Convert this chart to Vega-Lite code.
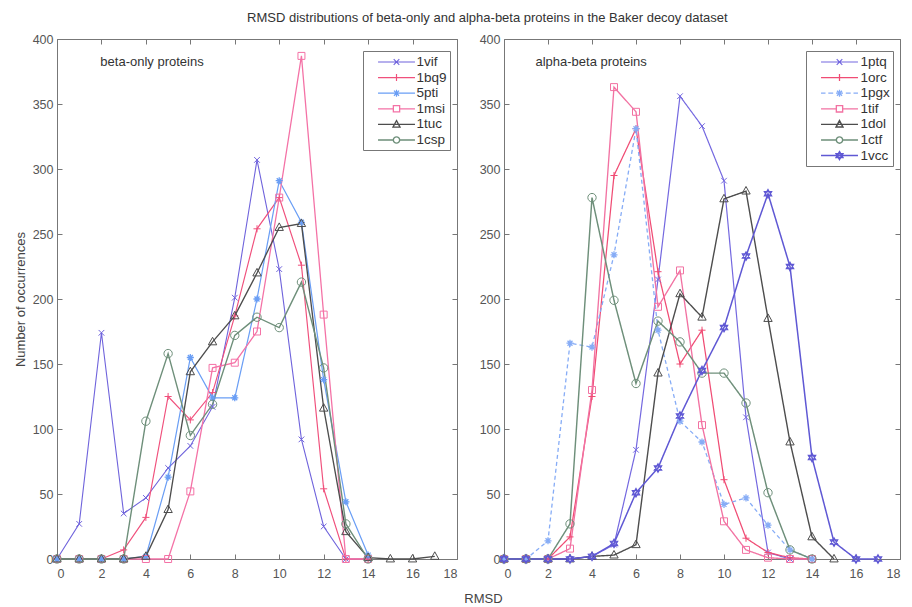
{
"$schema": "https://vega.github.io/schema/vega-lite/v6.json",
"background": "white",
"padding": {"left": 13, "top": 11, "right": 0, "bottom": 0},
"bounds": "flush",
"title": {"text": "RMSD distributions of beta-only and alpha-beta proteins in the Baker decoy dataset", "fontSize": 13, "font": "Liberation Sans", "fontWeight": "normal", "color": "#333", "anchor": "middle", "offset": 8, "dx": 30},
"config": {
 "font": "Liberation Sans",
 "view": {"stroke": "#777", "strokeWidth": 1},
 "axis": {"grid": false, "domain": false, "tickColor": "#777", "tickSize": -5, "labelPadding": 9, "labelFontSize": 12.5, "labelColor": "#555", "labelFont": "Liberation Sans", "titleFont": "Liberation Sans", "titleFontWeight": "normal", "titleFontSize": 13, "titleColor": "#444"}
},
"datasets": {"d": [
{"p":"L","s":"1vif","x":0,"y":0},{"p":"L","s":"1vif","x":1,"y":27},{"p":"L","s":"1vif","x":2,"y":174},{"p":"L","s":"1vif","x":3,"y":35},{"p":"L","s":"1vif","x":4,"y":47},{"p":"L","s":"1vif","x":5,"y":70},{"p":"L","s":"1vif","x":6,"y":87},{"p":"L","s":"1vif","x":7,"y":117},{"p":"L","s":"1vif","x":8,"y":201},{"p":"L","s":"1vif","x":9,"y":307},{"p":"L","s":"1vif","x":10,"y":223},{"p":"L","s":"1vif","x":11,"y":92},{"p":"L","s":"1vif","x":12,"y":25},{"p":"L","s":"1vif","x":13,"y":0},{"p":"L","s":"1vif","x":14,"y":0},
{"p":"L","s":"1bq9","x":0,"y":0},{"p":"L","s":"1bq9","x":1,"y":0},{"p":"L","s":"1bq9","x":2,"y":0},{"p":"L","s":"1bq9","x":3,"y":7},{"p":"L","s":"1bq9","x":4,"y":32},{"p":"L","s":"1bq9","x":5,"y":125},{"p":"L","s":"1bq9","x":6,"y":107},{"p":"L","s":"1bq9","x":7,"y":128},{"p":"L","s":"1bq9","x":8,"y":187},{"p":"L","s":"1bq9","x":9,"y":254},{"p":"L","s":"1bq9","x":10,"y":278},{"p":"L","s":"1bq9","x":11,"y":226},{"p":"L","s":"1bq9","x":12,"y":54},{"p":"L","s":"1bq9","x":13,"y":0},{"p":"L","s":"1bq9","x":14,"y":0},
{"p":"L","s":"5pti","x":0,"y":0},{"p":"L","s":"5pti","x":1,"y":0},{"p":"L","s":"5pti","x":2,"y":0},{"p":"L","s":"5pti","x":3,"y":0},{"p":"L","s":"5pti","x":4,"y":2},{"p":"L","s":"5pti","x":5,"y":63},{"p":"L","s":"5pti","x":6,"y":155},{"p":"L","s":"5pti","x":7,"y":124},{"p":"L","s":"5pti","x":8,"y":124},{"p":"L","s":"5pti","x":9,"y":200},{"p":"L","s":"5pti","x":10,"y":291},{"p":"L","s":"5pti","x":11,"y":259},{"p":"L","s":"5pti","x":12,"y":138},{"p":"L","s":"5pti","x":13,"y":44},{"p":"L","s":"5pti","x":14,"y":3},
{"p":"L","s":"1msi","x":0,"y":0},{"p":"L","s":"1msi","x":1,"y":0},{"p":"L","s":"1msi","x":2,"y":0},{"p":"L","s":"1msi","x":3,"y":0},{"p":"L","s":"1msi","x":4,"y":0},{"p":"L","s":"1msi","x":5,"y":0},{"p":"L","s":"1msi","x":6,"y":52},{"p":"L","s":"1msi","x":7,"y":147},{"p":"L","s":"1msi","x":8,"y":151},{"p":"L","s":"1msi","x":9,"y":175},{"p":"L","s":"1msi","x":10,"y":278},{"p":"L","s":"1msi","x":11,"y":387},{"p":"L","s":"1msi","x":12,"y":188},{"p":"L","s":"1msi","x":13,"y":0},{"p":"L","s":"1msi","x":14,"y":0},
{"p":"L","s":"1tuc","x":0,"y":0},{"p":"L","s":"1tuc","x":1,"y":0},{"p":"L","s":"1tuc","x":2,"y":0},{"p":"L","s":"1tuc","x":3,"y":0},{"p":"L","s":"1tuc","x":4,"y":2},{"p":"L","s":"1tuc","x":5,"y":38},{"p":"L","s":"1tuc","x":6,"y":144},{"p":"L","s":"1tuc","x":7,"y":167},{"p":"L","s":"1tuc","x":8,"y":187},{"p":"L","s":"1tuc","x":9,"y":220},{"p":"L","s":"1tuc","x":10,"y":255},{"p":"L","s":"1tuc","x":11,"y":258},{"p":"L","s":"1tuc","x":12,"y":116},{"p":"L","s":"1tuc","x":13,"y":21},{"p":"L","s":"1tuc","x":14,"y":1},{"p":"L","s":"1tuc","x":15,"y":0},{"p":"L","s":"1tuc","x":16,"y":0},{"p":"L","s":"1tuc","x":17,"y":2},
{"p":"L","s":"1csp","x":0,"y":0},{"p":"L","s":"1csp","x":1,"y":0},{"p":"L","s":"1csp","x":2,"y":0},{"p":"L","s":"1csp","x":3,"y":0},{"p":"L","s":"1csp","x":4,"y":106},{"p":"L","s":"1csp","x":5,"y":158},{"p":"L","s":"1csp","x":6,"y":95},{"p":"L","s":"1csp","x":7,"y":119},{"p":"L","s":"1csp","x":8,"y":172},{"p":"L","s":"1csp","x":9,"y":186},{"p":"L","s":"1csp","x":10,"y":178},{"p":"L","s":"1csp","x":11,"y":213},{"p":"L","s":"1csp","x":12,"y":147},{"p":"L","s":"1csp","x":13,"y":27},{"p":"L","s":"1csp","x":14,"y":0},
{"p":"R","s":"1ptq","x":0,"y":0},{"p":"R","s":"1ptq","x":1,"y":0},{"p":"R","s":"1ptq","x":2,"y":0},{"p":"R","s":"1ptq","x":3,"y":0},{"p":"R","s":"1ptq","x":4,"y":2},{"p":"R","s":"1ptq","x":5,"y":11},{"p":"R","s":"1ptq","x":6,"y":84},{"p":"R","s":"1ptq","x":7,"y":215},{"p":"R","s":"1ptq","x":8,"y":356},{"p":"R","s":"1ptq","x":9,"y":333},{"p":"R","s":"1ptq","x":10,"y":291},{"p":"R","s":"1ptq","x":11,"y":109},{"p":"R","s":"1ptq","x":12,"y":5},{"p":"R","s":"1ptq","x":13,"y":0},{"p":"R","s":"1ptq","x":14,"y":0},
{"p":"R","s":"1orc","x":0,"y":0},{"p":"R","s":"1orc","x":1,"y":0},{"p":"R","s":"1orc","x":2,"y":0},{"p":"R","s":"1orc","x":3,"y":17},{"p":"R","s":"1orc","x":4,"y":125},{"p":"R","s":"1orc","x":5,"y":295},{"p":"R","s":"1orc","x":6,"y":331},{"p":"R","s":"1orc","x":7,"y":221},{"p":"R","s":"1orc","x":8,"y":150},{"p":"R","s":"1orc","x":9,"y":176},{"p":"R","s":"1orc","x":10,"y":61},{"p":"R","s":"1orc","x":11,"y":16},{"p":"R","s":"1orc","x":12,"y":5},{"p":"R","s":"1orc","x":13,"y":1},{"p":"R","s":"1orc","x":14,"y":0},
{"p":"R","s":"1pgx","x":0,"y":0},{"p":"R","s":"1pgx","x":1,"y":0},{"p":"R","s":"1pgx","x":2,"y":14},{"p":"R","s":"1pgx","x":3,"y":166},{"p":"R","s":"1pgx","x":4,"y":163},{"p":"R","s":"1pgx","x":5,"y":234},{"p":"R","s":"1pgx","x":6,"y":331},{"p":"R","s":"1pgx","x":7,"y":176},{"p":"R","s":"1pgx","x":8,"y":106},{"p":"R","s":"1pgx","x":9,"y":90},{"p":"R","s":"1pgx","x":10,"y":42},{"p":"R","s":"1pgx","x":11,"y":47},{"p":"R","s":"1pgx","x":12,"y":26},{"p":"R","s":"1pgx","x":13,"y":7},{"p":"R","s":"1pgx","x":14,"y":0},
{"p":"R","s":"1tif","x":0,"y":0},{"p":"R","s":"1tif","x":1,"y":0},{"p":"R","s":"1tif","x":2,"y":0},{"p":"R","s":"1tif","x":3,"y":8},{"p":"R","s":"1tif","x":4,"y":130},{"p":"R","s":"1tif","x":5,"y":363},{"p":"R","s":"1tif","x":6,"y":344},{"p":"R","s":"1tif","x":7,"y":194},{"p":"R","s":"1tif","x":8,"y":222},{"p":"R","s":"1tif","x":9,"y":103},{"p":"R","s":"1tif","x":10,"y":29},{"p":"R","s":"1tif","x":11,"y":7},{"p":"R","s":"1tif","x":12,"y":1},{"p":"R","s":"1tif","x":13,"y":0},{"p":"R","s":"1tif","x":14,"y":0},
{"p":"R","s":"1dol","x":0,"y":0},{"p":"R","s":"1dol","x":1,"y":0},{"p":"R","s":"1dol","x":2,"y":0},{"p":"R","s":"1dol","x":3,"y":0},{"p":"R","s":"1dol","x":4,"y":2},{"p":"R","s":"1dol","x":5,"y":3},{"p":"R","s":"1dol","x":6,"y":11},{"p":"R","s":"1dol","x":7,"y":143},{"p":"R","s":"1dol","x":8,"y":204},{"p":"R","s":"1dol","x":9,"y":186},{"p":"R","s":"1dol","x":10,"y":277},{"p":"R","s":"1dol","x":11,"y":283},{"p":"R","s":"1dol","x":12,"y":185},{"p":"R","s":"1dol","x":13,"y":90},{"p":"R","s":"1dol","x":14,"y":17},{"p":"R","s":"1dol","x":15,"y":0},
{"p":"R","s":"1ctf","x":0,"y":0},{"p":"R","s":"1ctf","x":1,"y":0},{"p":"R","s":"1ctf","x":2,"y":0},{"p":"R","s":"1ctf","x":3,"y":27},{"p":"R","s":"1ctf","x":4,"y":278},{"p":"R","s":"1ctf","x":5,"y":199},{"p":"R","s":"1ctf","x":6,"y":135},{"p":"R","s":"1ctf","x":7,"y":183},{"p":"R","s":"1ctf","x":8,"y":167},{"p":"R","s":"1ctf","x":9,"y":143},{"p":"R","s":"1ctf","x":10,"y":143},{"p":"R","s":"1ctf","x":11,"y":120},{"p":"R","s":"1ctf","x":12,"y":51},{"p":"R","s":"1ctf","x":13,"y":7},{"p":"R","s":"1ctf","x":14,"y":0},
{"p":"R","s":"1vcc","x":0,"y":0},{"p":"R","s":"1vcc","x":1,"y":0},{"p":"R","s":"1vcc","x":2,"y":0},{"p":"R","s":"1vcc","x":3,"y":0},{"p":"R","s":"1vcc","x":4,"y":2},{"p":"R","s":"1vcc","x":5,"y":12},{"p":"R","s":"1vcc","x":6,"y":51},{"p":"R","s":"1vcc","x":7,"y":70},{"p":"R","s":"1vcc","x":8,"y":110},{"p":"R","s":"1vcc","x":9,"y":145},{"p":"R","s":"1vcc","x":10,"y":178},{"p":"R","s":"1vcc","x":11,"y":233},{"p":"R","s":"1vcc","x":12,"y":281},{"p":"R","s":"1vcc","x":13,"y":225},{"p":"R","s":"1vcc","x":14,"y":78},{"p":"R","s":"1vcc","x":15,"y":13},{"p":"R","s":"1vcc","x":16,"y":0},{"p":"R","s":"1vcc","x":17,"y":0}
]},
"resolve": {"scale": {"color": "independent", "shape": "independent", "strokeWidth": "independent"}, "legend": {"color": "independent", "shape": "independent"}},
"spacing": 47,
"hconcat": [
{
 "width": 400, "height": 520,
 "data": {"name": "d"},
 "resolve": {"axis": {"x": "independent", "y": "independent"}},
 "layer": [
  {"transform": [{"filter": "datum.p==='L'"}], "mark": {"type": "line"},
   "encoding": {
    "x": {"field": "x", "type": "quantitative", "scale": {"domain": [0, 18], "nice": false}, "axis": {"orient": "bottom", "values": [0,2,4,6,8,10,12,14,16,18], "labelPadding": 13, "title": "RMSD", "titleX": 426, "titleY": 33}},
    "y": {"field": "y", "type": "quantitative", "scale": {"domain": [0, 400], "nice": false}, "axis": {"orient": "left", "values": [0,50,100,150,200,250,300,350,400], "title": "Number of occurrences", "titlePadding": 5}},
    "color": {"field": "s", "type": "nominal", "scale": {"domain": ["1vif","1bq9","5pti","1msi","1tuc","1csp"], "range": ["#6f63dc","#f0507c","#6a9ef5","#f472a6","#4d4d4d","#6e8f7a"]}, "legend": {"title": null, "orient": "none", "legendX": 306, "legendY": 12, "padding": 3, "strokeColor": "#777", "fillColor": "white", "labelFontSize": 13.5, "labelColor": "#333", "labelFont": "Liberation Sans", "symbolSize": 196, "symbolStrokeWidth": 1, "symbolOffset": 22.5, "rowPadding": 0.6, "labelOffset": 12}},
    "strokeWidth": {"field": "s", "type": "nominal", "scale": {"domain": ["1vif","1bq9","5pti","1msi","1tuc","1csp"], "range": [1.1,1.4,1,1.1,1.5,1.1]}, "legend": null}
   }},
  {"transform": [{"filter": "datum.p==='L' && datum.s==='1vif'"}], "mark": {"type": "point", "shape": "M-0.8,-0.8L0.8,0.8M-0.8,0.8L0.8,-0.8", "filled": false, "size": 50, "strokeWidth": 1, "opacity": 1},
   "encoding": {"x": {"field": "x", "type": "quantitative", "axis": null}, "y": {"field": "y", "type": "quantitative", "axis": null}, "color": {"field": "s", "type": "nominal"}}},
  {"transform": [{"filter": "datum.p==='L' && datum.s==='1bq9'"}], "mark": {"type": "point", "shape": "M-1,0H1M0,-1V1", "filled": false, "size": 50, "strokeWidth": 1, "opacity": 1},
   "encoding": {"x": {"field": "x", "type": "quantitative", "axis": null}, "y": {"field": "y", "type": "quantitative", "axis": null}, "color": {"field": "s", "type": "nominal"}}},
  {"transform": [{"filter": "datum.p==='L' && datum.s==='5pti'"}], "mark": {"type": "point", "shape": "M-1,0H1M0,-1V1M-0.7,-0.7L0.7,0.7M-0.7,0.7L0.7,-0.7", "filled": false, "size": 50, "strokeWidth": 1.3, "opacity": 1},
   "encoding": {"x": {"field": "x", "type": "quantitative", "axis": null}, "y": {"field": "y", "type": "quantitative", "axis": null}, "color": {"field": "s", "type": "nominal"}}},
  {"transform": [{"filter": "datum.p==='L' && datum.s==='1msi'"}], "mark": {"type": "point", "shape": "M-0.9,-0.9H0.9V0.9H-0.9Z", "filled": false, "size": 60, "strokeWidth": 1, "opacity": 1},
   "encoding": {"x": {"field": "x", "type": "quantitative", "axis": null}, "y": {"field": "y", "type": "quantitative", "axis": null}, "color": {"field": "s", "type": "nominal"}}},
  {"transform": [{"filter": "datum.p==='L' && datum.s==='1tuc'"}], "mark": {"type": "point", "shape": "M0,-1.1L1,0.7H-1Z", "filled": false, "size": 70, "strokeWidth": 1, "opacity": 1},
   "encoding": {"x": {"field": "x", "type": "quantitative", "axis": null}, "y": {"field": "y", "type": "quantitative", "axis": null}, "color": {"field": "s", "type": "nominal"}}},
  {"transform": [{"filter": "datum.p==='L' && datum.s==='1csp'"}], "mark": {"type": "point", "shape": "M-1,0A1,1 0 1,0 1,0A1,1 0 1,0 -1,0Z", "filled": false, "size": 70, "strokeWidth": 1, "opacity": 1},
   "encoding": {"x": {"field": "x", "type": "quantitative", "axis": null}, "y": {"field": "y", "type": "quantitative", "axis": null}, "color": {"field": "s", "type": "nominal"}}},
  {"transform": [{"filter": "false"}], "mark": {"type": "point", "filled": false, "opacity": 1},
   "encoding": {"x": {"field": "x", "type": "quantitative", "axis": null}, "y": {"field": "y", "type": "quantitative", "axis": null},
    "color": {"field": "s", "type": "nominal"},
    "shape": {"field": "s", "type": "nominal", "scale": {"domain": ["1vif","1bq9","5pti","1msi","1tuc","1csp"], "range": [
      "M-2.64,0H2.64M-0.4,-0.4L0.4,0.4M-0.4,0.4L0.4,-0.4",
      "M-2.64,0H2.64M0,-0.5V0.5",
      "M-2.64,0H2.64M0,-0.5V0.5M-0.36,-0.36L0.36,0.36M-0.36,0.36L0.36,-0.36",
      "M-2.64,0H-0.45M0.45,0H2.64M-0.45,-0.45H0.45V0.45H-0.45Z",
      "M-2.64,0H2.64M0,-0.55L0.5,0.38H-0.5Z",
      "M-2.64,0H-0.45M0.45,0H2.64M-0.45,0A0.45,0.45 0 1,0 0.45,0A0.45,0.45 0 1,0 -0.45,0Z"]},
     "legend": {"title": null, "orient": "none", "legendX": 306, "legendY": 12, "padding": 3, "strokeColor": "#777", "fillColor": "white", "labelFontSize": 13.5, "labelColor": "#333", "labelFont": "Liberation Sans", "symbolSize": 196, "symbolStrokeWidth": 1, "symbolOffset": 22.5, "rowPadding": 0.6, "labelOffset": 12}}
   }},
  {"data": {"values": [{"p": "L", "x": 1.95, "y": 382, "t": "beta-only proteins"}]}, "mark": {"type": "text", "align": "left", "baseline": "middle", "fontSize": 13, "color": "#333", "font": "Liberation Sans"},
   "encoding": {"x": {"field": "x", "type": "quantitative", "axis": {"orient": "top", "labels": false, "title": null, "values": [0,2,4,6,8,10,12,14,16,18]}},
    "y": {"field": "y", "type": "quantitative", "axis": {"orient": "right", "labels": false, "title": null, "values": [0,50,100,150,200,250,300,350,400]}},
    "text": {"field": "t"}}}
 ]
},
{
 "width": 396, "height": 520,
 "data": {"name": "d"},
 "resolve": {"axis": {"x": "independent", "y": "independent"}},
 "layer": [
  {"transform": [{"filter": "datum.p==='R'"}], "mark": {"type": "line"},
   "encoding": {
    "x": {"field": "x", "type": "quantitative", "scale": {"domain": [0, 18], "nice": false}, "axis": {"orient": "bottom", "values": [0,2,4,6,8,10,12,14,16,18], "labelPadding": 13, "title": null}},
    "y": {"field": "y", "type": "quantitative", "scale": {"domain": [0, 400], "nice": false}, "axis": {"orient": "left", "values": [0,50,100,150,200,250,300,350,400], "title": null}},
    "color": {"field": "s", "type": "nominal", "scale": {"domain": ["1ptq","1orc","1pgx","1tif","1dol","1ctf","1vcc"], "range": ["#7468e0","#f04c74","#86acf6","#f272a2","#4d4d4d","#6e8f7a","#5f58d4"]}, "legend": {"title": null, "orient": "none", "legendX": 302, "legendY": 12, "padding": 3, "strokeColor": "#777", "fillColor": "white", "labelFontSize": 13.5, "labelColor": "#333", "labelFont": "Liberation Sans", "symbolSize": 196, "symbolStrokeWidth": 1, "symbolOffset": 22.5, "rowPadding": 0.6, "labelOffset": 13}},
    "strokeWidth": {"field": "s", "type": "nominal", "scale": {"domain": ["1ptq","1orc","1pgx","1tif","1dol","1ctf","1vcc"], "range": [1.2,1.5,1,1.3,1.3,1.1,1.6]}, "legend": null},
    "strokeDash": {"condition": {"test": "datum.s==='1pgx'", "value": [4, 3]}, "value": [1, 0]}
   }},
  {"transform": [{"filter": "datum.p==='R' && datum.s==='1ptq'"}], "mark": {"type": "point", "shape": "M-0.8,-0.8L0.8,0.8M-0.8,0.8L0.8,-0.8", "filled": false, "size": 50, "strokeWidth": 1, "opacity": 1},
   "encoding": {"x": {"field": "x", "type": "quantitative", "axis": null}, "y": {"field": "y", "type": "quantitative", "axis": null}, "color": {"field": "s", "type": "nominal"}}},
  {"transform": [{"filter": "datum.p==='R' && datum.s==='1orc'"}], "mark": {"type": "point", "shape": "M-1,0H1M0,-1V1", "filled": false, "size": 50, "strokeWidth": 1, "opacity": 1},
   "encoding": {"x": {"field": "x", "type": "quantitative", "axis": null}, "y": {"field": "y", "type": "quantitative", "axis": null}, "color": {"field": "s", "type": "nominal"}}},
  {"transform": [{"filter": "datum.p==='R' && datum.s==='1pgx'"}], "mark": {"type": "point", "shape": "M-1,0H1M0,-1V1M-0.7,-0.7L0.7,0.7M-0.7,0.7L0.7,-0.7", "filled": false, "size": 50, "strokeWidth": 1.3, "opacity": 1},
   "encoding": {"x": {"field": "x", "type": "quantitative", "axis": null}, "y": {"field": "y", "type": "quantitative", "axis": null}, "color": {"field": "s", "type": "nominal"}}},
  {"transform": [{"filter": "datum.p==='R' && datum.s==='1tif'"}], "mark": {"type": "point", "shape": "M-0.9,-0.9H0.9V0.9H-0.9Z", "filled": false, "size": 60, "strokeWidth": 1, "opacity": 1},
   "encoding": {"x": {"field": "x", "type": "quantitative", "axis": null}, "y": {"field": "y", "type": "quantitative", "axis": null}, "color": {"field": "s", "type": "nominal"}}},
  {"transform": [{"filter": "datum.p==='R' && datum.s==='1dol'"}], "mark": {"type": "point", "shape": "M0,-1.1L1,0.7H-1Z", "filled": false, "size": 70, "strokeWidth": 1, "opacity": 1},
   "encoding": {"x": {"field": "x", "type": "quantitative", "axis": null}, "y": {"field": "y", "type": "quantitative", "axis": null}, "color": {"field": "s", "type": "nominal"}}},
  {"transform": [{"filter": "datum.p==='R' && datum.s==='1ctf'"}], "mark": {"type": "point", "shape": "M-1,0A1,1 0 1,0 1,0A1,1 0 1,0 -1,0Z", "filled": false, "size": 70, "strokeWidth": 1, "opacity": 1},
   "encoding": {"x": {"field": "x", "type": "quantitative", "axis": null}, "y": {"field": "y", "type": "quantitative", "axis": null}, "color": {"field": "s", "type": "nominal"}}},
  {"transform": [{"filter": "datum.p==='R' && datum.s==='1vcc'"}], "mark": {"type": "point", "shape": "M0,-1.1L0.95,0.55H-0.95ZM0,1.1L0.95,-0.55H-0.95Z", "filled": false, "size": 60, "strokeWidth": 1.2, "opacity": 1},
   "encoding": {"x": {"field": "x", "type": "quantitative", "axis": null}, "y": {"field": "y", "type": "quantitative", "axis": null}, "color": {"field": "s", "type": "nominal"}}},
  {"transform": [{"filter": "false"}], "mark": {"type": "point", "filled": false, "opacity": 1},
   "encoding": {"x": {"field": "x", "type": "quantitative", "axis": null}, "y": {"field": "y", "type": "quantitative", "axis": null},
    "color": {"field": "s", "type": "nominal"},
    "shape": {"field": "s", "type": "nominal", "scale": {"domain": ["1ptq","1orc","1pgx","1tif","1dol","1ctf","1vcc"], "range": [
      "M-2.64,0H2.64M-0.4,-0.4L0.4,0.4M-0.4,0.4L0.4,-0.4",
      "M-2.64,0H2.64M0,-0.5V0.5",
      "M-2.64,0H-2.0M-1.6,0H-0.9M0.9,0H1.6M2.0,0H2.64M-0.5,0H0.5M0,-0.5V0.5M-0.36,-0.36L0.36,0.36M-0.36,0.36L0.36,-0.36",
      "M-2.64,0H-0.45M0.45,0H2.64M-0.45,-0.45H0.45V0.45H-0.45Z",
      "M-2.64,0H2.64M0,-0.55L0.5,0.38H-0.5Z",
      "M-2.64,0H-0.45M0.45,0H2.64M-0.45,0A0.45,0.45 0 1,0 0.45,0A0.45,0.45 0 1,0 -0.45,0Z",
      "M-2.64,0H2.64M0,-0.55L0.48,0.28H-0.48ZM0,0.55L0.48,-0.28H-0.48Z"]},
     "legend": {"title": null, "orient": "none", "legendX": 302, "legendY": 12, "padding": 3, "strokeColor": "#777", "fillColor": "white", "labelFontSize": 13.5, "labelColor": "#333", "labelFont": "Liberation Sans", "symbolSize": 196, "symbolStrokeWidth": 1, "symbolOffset": 22.5, "rowPadding": 0.6, "labelOffset": 13}}
   }},
  {"data": {"values": [{"p": "R", "x": 1.43, "y": 382, "t": "alpha-beta proteins"}]}, "mark": {"type": "text", "align": "left", "baseline": "middle", "fontSize": 13, "color": "#333", "font": "Liberation Sans"},
   "encoding": {"x": {"field": "x", "type": "quantitative", "axis": {"orient": "top", "labels": false, "title": null, "values": [0,2,4,6,8,10,12,14,16,18]}},
    "y": {"field": "y", "type": "quantitative", "axis": {"orient": "right", "labels": false, "title": null, "values": [0,50,100,150,200,250,300,350,400]}},
    "text": {"field": "t"}}}
 ]
}
]
}
